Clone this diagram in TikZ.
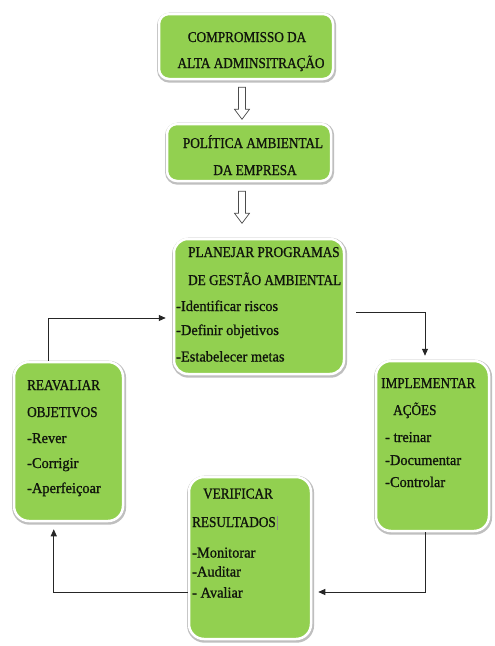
\documentclass[tikz,border=0pt]{standalone}
\usepackage{fontspec}
\setmainfont{Liberation Serif}
\newfontfamily\tnrcaps[FakeStretch=0.88,FakeBold=1.0]{Liberation Serif}
\newfontfamily\tnrlow[FakeStretch=0.96,FakeBold=1.0]{Liberation Serif}
\usetikzlibrary{calc,arrows.meta}
\definecolor{boxgreen}{HTML}{92D050}
\definecolor{txtc}{HTML}{10150C}
\begin{document}
\begin{tikzpicture}[x=1pt,y=-1pt,
  box/.style={rectangle, rounded corners=14pt, fill=boxgreen, draw=white, line width=2.5pt, inner sep=0pt,
    preaction={draw=black!25, line width=5pt, transform canvas={xshift=0.6pt,yshift=-1.2pt}}},
  capt/.style={font=\tnrcaps\fontsize{15}{17}\selectfont, text=txtc, inner sep=0pt},
  lowt/.style={font=\tnrlow\fontsize{15}{17}\selectfont, text=txtc, inner sep=0pt},
  conn/.style={draw=black!85, line width=0.9pt, -{Triangle[length=7pt,width=6pt]}},
  hollow/.style={draw=black!70, line width=0.7pt, fill=white}]
\useasboundingbox[fill=white] (0,0) rectangle (495,646);

% boxes
\node[box, rounded corners=10pt, minimum width=174pt, minimum height=65pt] (b1) at (246,46.5) {};
\node[box, rounded corners=10pt, minimum width=164pt, minimum height=57pt] (b2) at (249,152.5) {};
\node[box, minimum width=170pt, minimum height=135pt] (b3) at (259,306.5) {};
\node[box, rounded corners=15pt, minimum width=109pt, minimum height=159pt] (b4) at (68.5,441.5) {};
\node[box, rounded corners=15pt, minimum width=113pt, minimum height=170pt] (b5) at (432.5,446) {};
\node[box, rounded corners=15pt, minimum width=122pt, minimum height=162pt] (b6) at (250,558) {};

% texts box 1
\node[capt, anchor=base] (t1a) at (247,42) {COMPROMISSO DA};
\node[capt, anchor=base] (t1b) at (251,68) {ALTA ADMINSITRAÇÃO};
% box 2
\node[capt, anchor=base] (t2a) at (253,148) {POLÍTICA AMBIENTAL};
\node[capt, anchor=base] (t2b) at (255,175) {DA EMPRESA};
% box 3
\node[capt, anchor=base west] (t3a) at (188,257) {PLANEJAR PROGRAMAS};
\node[capt, anchor=base west] (t3b) at (188,285) {DE GESTÃO AMBIENTAL};
\node[lowt, anchor=base west] (t3c) at (176,311) {-Identificar riscos};
\node[lowt, anchor=base west] (t3d) at (176,335) {-Definir objetivos};
\node[lowt, anchor=base west] (t3e) at (176,361.5) {-Estabelecer metas};
% box 4
\node[capt, anchor=base west] (t4a) at (27,390) {REAVALIAR};
\node[capt, anchor=base west] (t4b) at (27,417) {OBJETIVOS};
\node[lowt, anchor=base west] (t4c) at (27,443) {-Rever};
\node[lowt, anchor=base west] (t4d) at (27,468) {-Corrigir};
\node[lowt, anchor=base west] (t4e) at (27,493) {-Aperfeiçoar};
% box 5
\node[capt, anchor=base west] (t5a) at (381,388) {IMPLEMENTAR};
\node[capt, anchor=base west] (t5b) at (393,415) {AÇÕES};
\node[lowt, anchor=base west] (t5c) at (385,442) {- treinar};
\node[lowt, anchor=base west] (t5d) at (385,465) {-Documentar};
\node[lowt, anchor=base west] (t5e) at (385,487) {-Controlar};
% box 6
\node[capt, anchor=base west] (t6a) at (203,498.5) {VERIFICAR};
\node[capt, anchor=base west] (t6b) at (192,527) {RESULTADOS\hspace{1pt}\textcolor{black!45}{\rule[-2.5pt]{0.6pt}{14pt}}};
\node[lowt, anchor=base west] (t6c) at (192,557.5) {-Monitorar};
\node[lowt, anchor=base west] (t6d) at (192,576.5) {-Auditar};
\node[lowt, anchor=base west] (t6e) at (192,597.5) {- Avaliar};

% hollow arrows
\coordinate (h1) at ($(b1.south)+(-4,7)$);
\coordinate (h2) at ($(b2.south)+(-7,9)$);
\foreach \h in {h1,h2}{
  \draw[hollow] (\h) ++(-3.5,0) -- ++(0,22) -- ++(-4,0) -- ++(7.5,10) -- ++(7.5,-10) -- ++(-4,0) -- ++(0,-22) -- cycle;
}

% connectors
\draw[conn] ($(b4.north west)+(36,0)$) |- ($(b3.west)+(-7,11.5)$);
\draw[conn] ($(b3.east)+(11,5.5)$) -| ($(b5.north)+(-7.5,-4)$);
\draw[conn] ($(b5.south)+(-7.5,0)$) |- ($(b6.east)+(6,34)$);
\draw[conn] ($(b6.west)+(0,34)$) -| ($(b4.south west)+(41,7)$);
\end{tikzpicture}
\end{document}
